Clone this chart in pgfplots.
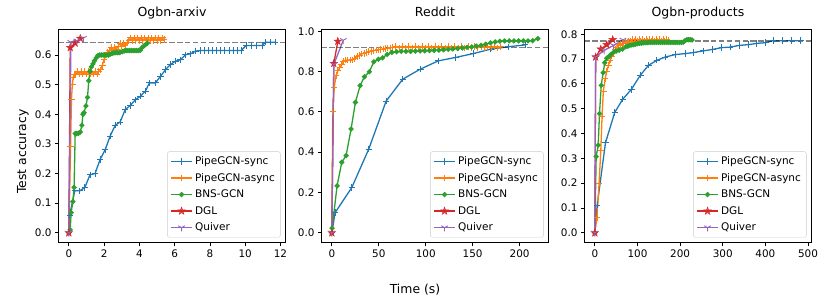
\documentclass[border=0pt]{standalone}
\usepackage{fontspec}
\setmainfont{DejaVu Sans}
\usepackage{pgfplots}
\pgfplotsset{compat=1.18}
\usetikzlibrary{plotmarks}
\definecolor{tabblue}{HTML}{1F77B4}
\definecolor{taborange}{HTML}{FF7F0E}
\definecolor{tabgreen}{HTML}{2CA02C}
\definecolor{tabred}{HTML}{D62728}
\definecolor{tabpurple}{HTML}{9467BD}
\pgfdeclareplotmark{fivestar}{%
  \pgfpathmoveto{\pgfpointpolar{90}{\pgfplotmarksize}}%
  \pgfpathlineto{\pgfpointpolar{126}{0.4\pgfplotmarksize}}%
  \pgfpathlineto{\pgfpointpolar{162}{\pgfplotmarksize}}%
  \pgfpathlineto{\pgfpointpolar{198}{0.4\pgfplotmarksize}}%
  \pgfpathlineto{\pgfpointpolar{234}{\pgfplotmarksize}}%
  \pgfpathlineto{\pgfpointpolar{270}{0.4\pgfplotmarksize}}%
  \pgfpathlineto{\pgfpointpolar{306}{\pgfplotmarksize}}%
  \pgfpathlineto{\pgfpointpolar{342}{0.4\pgfplotmarksize}}%
  \pgfpathlineto{\pgfpointpolar{18}{\pgfplotmarksize}}%
  \pgfpathlineto{\pgfpointpolar{54}{0.4\pgfplotmarksize}}%
  \pgfpathclose
  \pgfusepathqfillstroke}
\pgfplotsset{
  panel/.style={
    scale only axis, width=227pt, height=213.5pt, anchor=south west,
    axis line style={line width=0.8pt},
    tick align=outside, xtick pos=bottom, ytick pos=left,
    major tick length=3.5pt,
    every tick/.style={black, line width=0.8pt},
    /pgf/number format/assume math mode=true,
    tick label style={font=\fontsize{10.4}{12}\selectfont},
    title style={at={(0.5,1)}, anchor=base, yshift=6.3pt, font=\fontsize{12.5}{14}\selectfont},
    yticklabel style={/pgf/number format/.cd, fixed, fixed zerofill, precision=1},
    xticklabel style={/pgf/number format/.cd, fixed, precision=0},
    legend cell align=left,
    legend style={at={(1,0)}, anchor=south east, xshift=-5pt, yshift=5pt,
      font=\fontsize{10.5}{12}\selectfont, draw=black!20, rounded corners=2pt,
      fill=white, fill opacity=0.8, text opacity=1, draw opacity=1,
      inner xsep=3pt, inner ysep=2.5pt, row sep=2.4pt,
      nodes={inner sep=2.4pt}},
    legend image code/.code={\draw[mark repeat=2,mark phase=2] plot coordinates {(0pt,0pt) (10.5pt,0pt) (21pt,0pt)};},
  },
  sync/.style={tabblue, line width=1.3pt, mark=+, mark size=3.2pt, mark options={line width=0.9pt}},
  async/.style={taborange, line width=1.3pt, mark=+, mark size=3.2pt, mark options={line width=0.9pt}},
  bns/.style={tabgreen, line width=1.3pt, mark=*, mark size=1.9pt},
  dgl/.style={tabred, line width=1.3pt, mark=fivestar, mark size=4pt, mark options={line width=0.4pt}},
  quiver/.style={tabpurple, line width=1.3pt, mark=Mercedes star flipped, mark size=3.8pt, mark options={line width=0.9pt}},
  target/.style={black, opacity=0.5, line width=1.5pt, dash pattern=on 5.5pt off 2.4pt, forget plot, mark=none},
}
\begin{document}
\begin{tikzpicture}
\useasboundingbox (0,0) rectangle (831pt,300pt);
% ---------------- Ogbn-arxiv ----------------
\begin{axis}[panel, at={(58.5pt,57.5pt)}, title={Ogbn-arxiv},
  xmin=-0.585, xmax=12.285, ymin=-0.03275, ymax=0.68775,
  xtick={0,2,4,6,8,10,12}, ytick={0,0.1,0.2,0.3,0.4,0.5,0.6}]
\addplot[sync] coordinates {
(0,0) (0.05,0.06) (0.34,0.142) (0.63,0.142) (0.91,0.153) (1.2,0.196) (1.49,0.2)
(1.77,0.247) (2.06,0.28) (2.34,0.326) (2.63,0.363) (2.91,0.374) (3.2,0.416)
(3.49,0.43) (3.77,0.449) (4.06,0.461) (4.34,0.478) (4.57,0.506) (4.91,0.506)
(5.2,0.528) (5.49,0.551) (5.76,0.568) (6.05,0.579) (6.33,0.584) (6.62,0.601)
(6.9,0.604) (7.18,0.613) (7.47,0.615) (7.7,0.615) (7.93,0.615) (8.16,0.615)
(8.39,0.615) (8.62,0.615) (8.85,0.615) (9.08,0.615) (9.31,0.615) (9.54,0.615)
(9.77,0.615) (10.05,0.632) (10.35,0.632) (10.65,0.632) (10.95,0.632)
(11.15,0.643) (11.45,0.643) (11.7,0.643)};
\addlegendentry{PipeGCN-sync}
\addplot[async] coordinates {
(0,0) (0.1,0.29) (0.15,0.45) (0.2,0.5) (0.25,0.525) (0.3,0.535)
(0.4,0.535) (0.5,0.545) (0.6,0.535) (0.7,0.545) (0.8,0.535) (0.9,0.545)
(1.0,0.535) (1.1,0.545) (1.2,0.535) (1.3,0.545) (1.4,0.535) (1.5,0.545)
(1.6,0.535) (1.7,0.545) (1.8,0.55) (1.9,0.565) (2.0,0.585) (2.1,0.6)
(2.2,0.61) (2.3,0.615) (2.4,0.625) (2.5,0.615) (2.6,0.625) (2.7,0.62)
(2.8,0.63) (2.9,0.64) (3.0,0.63) (3.1,0.64) (3.2,0.632) (3.3,0.642)
(3.4,0.648) (3.5,0.658) (3.6,0.648) (3.7,0.658) (3.8,0.648) (3.9,0.658)
(4.0,0.648) (4.1,0.658) (4.2,0.648) (4.3,0.658) (4.4,0.648) (4.5,0.658)
(4.6,0.648) (4.7,0.658) (4.8,0.648) (4.9,0.658) (5.0,0.648) (5.1,0.658)
(5.2,0.648) (5.3,0.658) (5.4,0.652)};
\addlegendentry{PipeGCN-async}
\addplot[bns] coordinates {
(0,0) (0.08,0.01) (0.13,0.068) (0.23,0.105) (0.3,0.153) (0.36,0.335)
(0.45,0.335) (0.55,0.336) (0.65,0.34) (0.74,0.363) (0.8,0.4) (0.86,0.405)
(0.97,0.428) (1.06,0.457) (1.13,0.513) (1.2,0.545) (1.28,0.56) (1.37,0.57)
(1.45,0.58) (1.55,0.59) (1.65,0.598) (1.75,0.6) (1.85,0.6) (1.95,0.6)
(2.05,0.6) (2.15,0.6) (2.25,0.6) (2.35,0.603) (2.45,0.605) (2.55,0.607)
(2.65,0.608) (2.75,0.608) (2.85,0.608) (2.95,0.61) (3.05,0.612) (3.15,0.614)
(3.25,0.615) (3.35,0.615) (3.45,0.615) (3.55,0.615) (3.65,0.615) (3.75,0.615)
(3.85,0.615) (3.95,0.615) (4.05,0.616) (4.15,0.625) (4.25,0.63) (4.35,0.635)
(4.45,0.64)};
\addlegendentry{BNS-GCN}
\addplot[dgl] coordinates {(0,0) (0.08,0.625) (0.36,0.64) (0.65,0.656)};
\addlegendentry{DGL}
\addplot[quiver] coordinates {(0,0) (0.12,0.643) (0.45,0.648) (0.83,0.657)};
\addlegendentry{Quiver}
\addplot[target] coordinates {(-0.585,0.643) (12.285,0.643)};
\end{axis}
% ---------------- Reddit ----------------
\begin{axis}[panel, at={(321.5pt,57.5pt)}, title={Reddit},
  xmin=-11, xmax=230.8, ymin=-0.048, ymax=1.011,
  xtick={0,50,100,150,200}, ytick={0,0.2,0.4,0.6,0.8,1.0}]
\addplot[sync] coordinates {
(0,0) (3.5,0.1) (21.3,0.225) (39.4,0.416) (57.8,0.653) (75.5,0.762) (94.3,0.812)
(113.4,0.853) (132,0.87) (150.6,0.889) (169,0.911) (188,0.923) (206,0.932)};
\addlegendentry{PipeGCN-sync}
\addplot[async] coordinates {
(0,0) (1,0.6) (2.5,0.72) (4.5,0.78) (6.5,0.805) (8.5,0.82) (10.5,0.835)
(12.5,0.85) (14.5,0.857) (17,0.857) (19.5,0.857) (22,0.858) (24.5,0.865)
(27,0.875) (29.5,0.88) (32,0.888) (34.5,0.89) (37,0.895) (39.5,0.9) (42,0.9)
(44.5,0.903) (47,0.906) (49.5,0.908) (52,0.91) (54.5,0.912) (57,0.914)
(59.5,0.916) (62,0.918) (64.5,0.92) (68,0.925) (71.5,0.918) (75,0.925)
(78.5,0.918) (82,0.925) (85.5,0.918) (89,0.925) (92.5,0.918) (96,0.925)
(99.5,0.918) (103,0.925) (106.5,0.918) (110,0.925) (113.5,0.918) (117,0.925)
(120.5,0.918) (124,0.925) (127.5,0.918) (131,0.925) (134.5,0.918) (138,0.925)
(141.5,0.918) (145,0.925) (148.5,0.918) (152,0.925) (155.5,0.918) (159,0.925)
(162.5,0.918) (166,0.925) (169.5,0.918) (173,0.925) (176.5,0.918) (179.5,0.922)};
\addlegendentry{PipeGCN-async}
\addplot[bns] coordinates {
(0,0) (0.3,0.023) (5.6,0.233) (10.6,0.35) (15.2,0.383) (20.5,0.515) (25.1,0.647)
(30.1,0.73) (34.7,0.774) (40,0.799) (44.7,0.848) (49.6,0.861) (54,0.868)
(59,0.885) (64,0.895) (69,0.898) (74,0.9) (79,0.9) (84,0.9) (89,0.901)
(94,0.902) (99,0.903) (104,0.904) (109,0.905) (114,0.906) (119,0.908)
(124,0.91) (129,0.912) (134,0.914) (139,0.917) (144,0.92) (149,0.922)
(154,0.926) (159,0.93) (164,0.936) (169,0.942) (174,0.947) (179,0.95)
(184,0.952) (189,0.952) (194,0.952) (199,0.952) (204,0.952) (209,0.952)
(214,0.953) (219.5,0.963)};
\addlegendentry{BNS-GCN}
\addplot[dgl] coordinates {(0,0) (2.1,0.84) (6.4,0.95)};
\addlegendentry{DGL}
\addplot[quiver] coordinates {(0,0) (2.1,0.835) (12.2,0.955)};
\addlegendentry{Quiver}
\addplot[target] coordinates {(-11,0.92) (230.8,0.92)};
\end{axis}
% ---------------- Ogbn-products ----------------
\begin{axis}[panel, at={(584.5pt,57.5pt)}, title={Ogbn-products},
  xmin=-24.2, xmax=508.2, ymin=-0.039, ymax=0.821,
  xtick={0,100,200,300,400,500}, ytick={0,0.1,0.2,0.3,0.4,0.5,0.6,0.7,0.8}]
\addplot[sync] coordinates {
(0,0) (5.6,0.112) (25,0.363) (46.7,0.485) (65.4,0.538) (85.7,0.578) (106.8,0.635)
(126,0.675) (145.7,0.695) (165,0.708) (188.5,0.718) (212,0.722) (231,0.726)
(254.7,0.733) (276.6,0.739) (297.7,0.746) (317,0.748) (338.8,0.755) (360,0.758)
(379.4,0.763) (401,0.766) (418,0.774) (440,0.774) (461,0.774) (482,0.774)};
\addlegendentry{PipeGCN-sync}
\addplot[async] coordinates {
(0,0) (5,0.06) (10,0.2) (14,0.33) (17,0.47) (20,0.57) (24,0.62) (28,0.65)
(32,0.675) (36,0.695) (40,0.712) (44,0.727) (48,0.74) (52,0.748) (56,0.754)
(60,0.758) (64,0.762) (68,0.764) (72,0.766) (76,0.768) (80,0.77) (84,0.772)
(88,0.778) (92,0.772) (96,0.778) (100,0.772) (104,0.778) (108,0.772) (112,0.778)
(116,0.772) (120,0.778) (124,0.772) (128,0.778) (132,0.772) (136,0.778)
(140,0.772) (144,0.778) (148,0.772) (152,0.778) (156,0.772) (160,0.778)
(164,0.772) (168,0.778) (172,0.775)};
\addlegendentry{PipeGCN-async}
\addplot[bns] coordinates {
(0,0) (3.2,0.307) (7.9,0.353) (11,0.48) (15,0.594) (19.6,0.645) (23.4,0.685)
(28,0.703) (33,0.71) (38,0.719) (44,0.727) (50,0.732) (57,0.736) (65,0.74)
(73,0.75) (77.5,0.752) (82,0.755) (86.5,0.757) (91,0.758) (95.5,0.76)
(100,0.762) (104.5,0.763) (109,0.764) (113.5,0.765) (118,0.766) (122.5,0.766)
(127,0.767) (131.5,0.767) (136,0.767) (140.5,0.767) (145,0.767) (149.5,0.767)
(154,0.767) (158.5,0.767) (163,0.767) (167.5,0.767) (172,0.767) (176.5,0.767)
(181,0.767) (185.5,0.767) (190,0.767) (194.5,0.767) (199,0.767) (203.5,0.767)
(208,0.768) (212,0.775) (216,0.778) (220,0.778) (224,0.778) (228,0.777)};
\addlegendentry{BNS-GCN}
\addplot[dgl] coordinates {(0,0) (2,0.708) (14,0.74) (28,0.758) (42,0.778)};
\addlegendentry{DGL}
\addplot[quiver] coordinates {(0,0) (2,0.708) (22,0.735) (44,0.755) (66,0.777)};
\addlegendentry{Quiver}
\addplot[target] coordinates {(-24.2,0.772) (508.2,0.772)};
\end{axis}
\node[font=\fontsize{12.4}{14}\selectfont, anchor=base] at (415pt,6pt) {Time (s)};
\node[font=\fontsize{12.4}{14}\selectfont, rotate=90] at (23pt,148.5pt) {Test accuracy};
\end{tikzpicture}
\end{document}
